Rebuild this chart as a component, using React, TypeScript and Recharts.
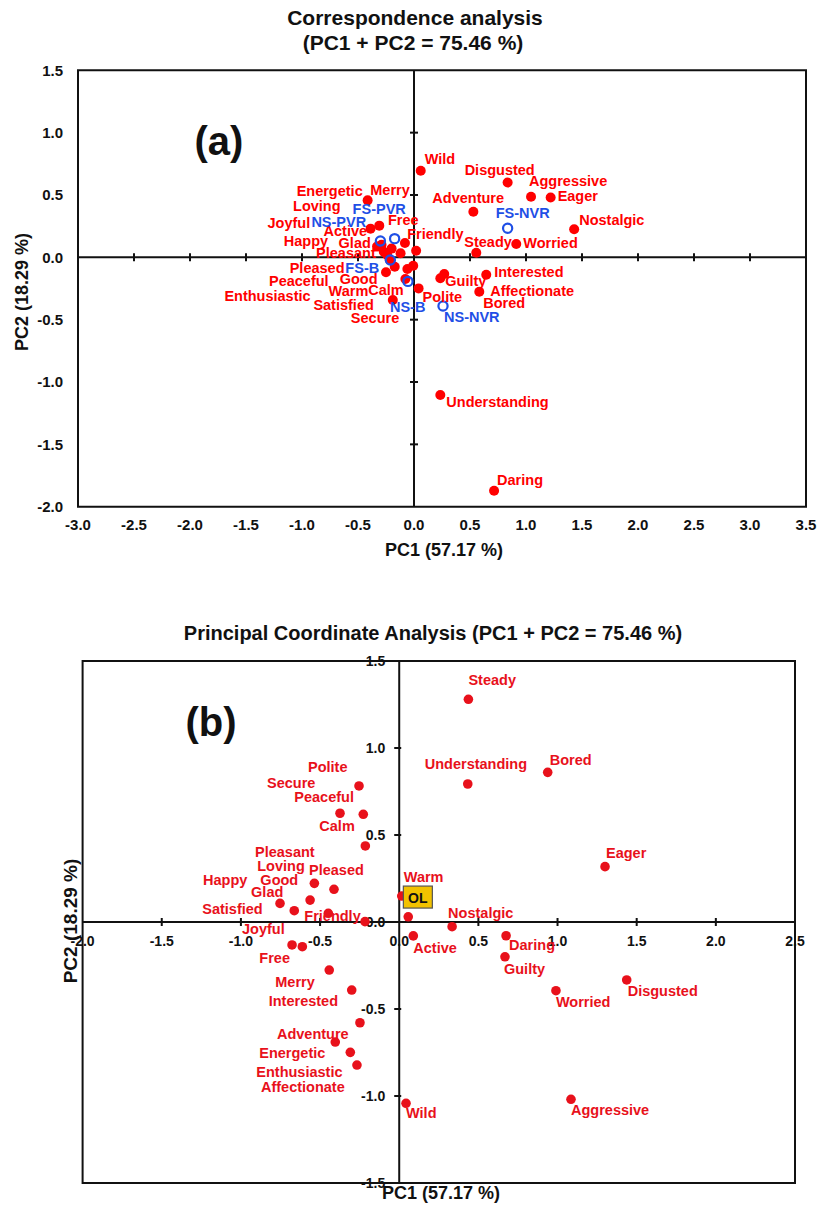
import React from "react";
import {
  ScatterChart,
  Scatter,
  XAxis,
  YAxis,
  ReferenceLine,
  ReferenceArea,
  ReferenceDot,
} from "recharts";

const FONT = "'Liberation Sans', Arial, Helvetica, sans-serif";
const RED = "#ff0000";
const RED_B = "#e8111b";
const BLUE = "#1f4fe6";
const INK = "#111";

// (a) correspondence analysis: attribute scores
const ATTR_A = [
  "Wild", "Disgusted", "Aggressive", "Eager", "Adventure", "Nostalgic", "Steady", "Worried",
  "Interested", "Guilty", "Affectionate", "Bored", "Polite", "Understanding", "Daring",
  "Energetic", "Merry", "Joyful", "Active", "Loving", "Free", "Friendly", "Happy", "Glad",
  "Pleasant", "Warm", "Pleased", "Peaceful", "Good", "Enthusiastic", "Calm", "Satisfied", "Secure",
];
const PC1_A = [
  0.06, 0.836, 1.045, 1.22, 0.53, 1.43, 0.556, 0.913,
  0.645, 0.235, 0.27, 0.583, 0.041, 0.235, 0.715,
  -0.414, -0.31, -0.388, -0.29, -0.33, -0.081, 0.019, -0.27, -0.2,
  -0.24, -0.12, -0.217, -0.25, -0.172, -0.059, -0.007, -0.077, -0.189,
];
const PC2_A = [
  0.695, 0.6, 0.486, 0.48, 0.366, 0.225, 0.037, 0.107,
  -0.14, -0.168, -0.134, -0.276, -0.249, -1.104, -1.872,
  0.457, 0.254, 0.23, 0.1, 0.086, 0.115, 0.053, 0.045, 0.07,
  0.02, 0.032, -0.02, -0.12, -0.075, -0.094, -0.067, -0.174, -0.342,
];

// (a) sample scores
const SAMPLE_A = ["FS-PVR", "NS-PVR", "FS-B", "NS-B", "FS-NVR", "NS-NVR"];
const SAMPLE_PC1_A = [-0.173, -0.3, -0.211, -0.054, 0.836, 0.259];
const SAMPLE_PC2_A = [0.15, 0.131, -0.021, -0.193, 0.233, -0.39];

// (b) principal coordinate analysis
const ATTR_B = [
  "Steady", "Understanding", "Bored", "Eager", "Polite", "Secure", "Peaceful", "Calm",
  "Good", "Pleased", "Glad", "Happy", "Satisfied", "Friendly", "Pleasant", "Warm", "Loving",
  "Active", "Nostalgic", "Daring", "Guilty", "Worried", "Disgusted", "Aggressive", "Wild",
  "Joyful", "Free", "Merry", "Interested", "Adventure", "Energetic", "Enthusiastic", "Affectionate",
];
const PC1_B = [
  0.437, 0.433, 0.938, 1.3, -0.254, -0.374, -0.227, -0.214,
  -0.536, -0.412, -0.563, -0.753, -0.663, -0.448, -0.216, 0.016, 0.057,
  0.089, 0.334, 0.675, 0.668, 0.99, 1.437, 1.085, 0.043,
  -0.677, -0.612, -0.442, -0.3, -0.248, -0.404, -0.309, -0.267,
];
const PC2_B = [
  1.28, 0.793, 0.86, 0.318, 0.782, 0.625, 0.619, 0.437,
  0.222, 0.188, 0.126, 0.107, 0.065, 0.05, 0.002, 0.149, 0.03,
  -0.08, -0.027, -0.079, -0.2, -0.395, -0.333, -1.019, -1.042,
  -0.132, -0.142, -0.276, -0.391, -0.579, -0.69, -0.749, -0.822,
];

const X_TICKS_A = [-3, -2.5, -2, -1.5, -1, -0.5, 0, 0.5, 1, 1.5, 2, 2.5, 3, 3.5];
const Y_TICKS_A = [-2, -1.5, -1, -0.5, 0, 0.5, 1, 1.5];
const X_TICKS_B = [-2, -1.5, -1, -0.5, 0, 0.5, 1, 1.5, 2, 2.5];
const Y_TICKS_B = [-1.5, -1, -0.5, 0, 0.5, 1, 1.5];

// label placement: px offset of the text start from its marker
const OFFSET_A: Record<string, [number, number]> = {
  Wild: [4, -12], Disgusted: [-43, -13], Aggressive: [-2, -16], Eager: [7, -1],
  Adventure: [-41, -14], Nostalgic: [5, -9], Steady: [-12, -11], Worried: [7, -1],
  Interested: [8, -3], Guilty: [5, 3], Affectionate: [46, 17], Bored: [4, 11],
  Polite: [4, 9], Understanding: [6, 7], Daring: [3, -11],
  Energetic: [-71, -9], Merry: [-9, -36], Joyful: [-103, -6], Active: [-58, -14],
  Loving: [-84, -41], Free: [-17, -23], Friendly: [-9, -17], Happy: [-100, -11],
  Glad: [-53, -6], Pleasant: [-71, -2], Warm: [-72, 38], Pleased: [-100, 8],
  Peaceful: [-117, 9], Good: [-55, 12], Enthusiastic: [-183, 27], Calm: [-45, 24],
  Satisfied: [-92, 26], Secure: [-42, 18],
  "FS-PVR": [-42, -30], "NS-PVR": [-69, -19], "FS-B": [-45, 8], "NS-B": [-18, 26],
  "FS-NVR": [-12, -15], "NS-NVR": [1, 11],
};
const OFFSET_B: Record<string, [number, number]> = {
  Steady: [0, -19], Understanding: [-43, -20], Bored: [2, -12], Eager: [1, -14],
  Polite: [-51, -19], Secure: [-73, -30], Peaceful: [-69, -17], Calm: [-46, -20],
  Good: [-54, -3], Pleased: [-25, -19], Glad: [-59, -8], Happy: [-77, -23],
  Satisfied: [-92, -2], Friendly: [-24, 3], Pleasant: [-110, -70], Warm: [2, -19],
  Loving: [-151, -51], Active: [0, 12], Nostalgic: [-4, -14], Daring: [3, 9],
  Guilty: [-1, 12], Worried: [0, 11], Disgusted: [1, 11], Aggressive: [0, 11],
  Wild: [0, 10], Joyful: [-50, -16], Free: [-43, 11], Merry: [-54, 12],
  Interested: [-83, 11], Adventure: [-83, 11], Energetic: [-76, 11],
  Enthusiastic: [-94, 20], Affectionate: [-96, 22],
};

const zip = (names: string[], xs: number[], ys: number[]) =>
  names.map((name, i) => ({ name, x: xs[i], y: ys[i] }));

const attrA = zip(ATTR_A, PC1_A, PC2_A);
const samplesA = zip(SAMPLE_A, SAMPLE_PC1_A, SAMPLE_PC2_A);
const attrB = zip(ATTR_B, PC1_B, PC2_B);
const warmB = attrB.find((d) => d.name === "Warm")!;

const fmt = (v: number) => v.toFixed(1);

const dot = (color: string, r: number) => (p: any) =>
  <circle cx={p.cx} cy={p.cy} r={r} fill={color} />;

const ring = (color: string, r: number) => (p: any) =>
  <circle cx={p.cx} cy={p.cy} r={r} fill="none" stroke={color} strokeWidth={2.2} />;

const label = (offsets: Record<string, [number, number]>, color: string, size: number) => (p: any) => {
  const [dx, dy] = offsets[p.payload.name] ?? [6, 0];
  return (
    <text
      x={p.cx + dx}
      y={p.cy + dy}
      dominantBaseline="central"
      fill={color}
      fontSize={size}
      fontWeight={700}
      fontFamily={FONT}
    >
      {p.payload.name}
    </text>
  );
};

const crossTick = (vertical: boolean, len: number) => (p: any) =>
  vertical ? (
    <line x1={p.cx} x2={p.cx} y1={p.cy - len} y2={p.cy + len} stroke={INK} strokeWidth={2} />
  ) : (
    <line x1={p.cx - len} x2={p.cx + len} y1={p.cy} y2={p.cy} stroke={INK} strokeWidth={2} />
  );

const tickFont = { fontSize: 15, fontWeight: 700, fill: INK, fontFamily: FONT };

function Txt({ cx, cy, size, children, rotate }: any) {
  return (
    <div
      style={{
        position: "absolute",
        left: cx - 300,
        top: cy - size,
        width: 600,
        height: size * 2,
        lineHeight: `${size * 2}px`,
        textAlign: "center",
        fontSize: size,
        fontWeight: 700,
        fontFamily: FONT,
        color: INK,
        whiteSpace: "nowrap",
        transform: rotate ? "rotate(-90deg)" : undefined,
      }}
    >
      {children}
    </div>
  );
}

function PanelA() {
  return (
    <ScatterChart width={819} height={580} margin={{ top: 70.3, right: 13, bottom: 43.3, left: 8 }}>
      <XAxis
        type="number"
        dataKey="x"
        domain={[-3, 3.5]}
        ticks={X_TICKS_A}
        interval={0}
        tickFormatter={fmt}
        axisLine={false}
        tickLine={false}
        tickMargin={7}
        height={30}
        tick={tickFont}
      />
      <YAxis
        type="number"
        dataKey="y"
        domain={[-2, 1.5]}
        ticks={Y_TICKS_A}
        interval={0}
        tickFormatter={fmt}
        axisLine={false}
        tickLine={false}
        tickMargin={9}
        width={70}
        tick={tickFont}
      />
      <ReferenceArea x1={-3} x2={3.5} y1={-2} y2={1.5} fill="none" stroke={INK} strokeWidth={2} ifOverflow="visible" />
      <ReferenceLine x={0} stroke={INK} strokeWidth={2} />
      <ReferenceLine y={0} stroke={INK} strokeWidth={2} />
      {X_TICKS_A.filter((t) => t !== 0 && t > -3 && t < 3.5).map((t) => (
        <ReferenceDot key={"xa" + t} x={t} y={0} r={3} ifOverflow="visible" shape={crossTick(true, 4)} />
      ))}
      {Y_TICKS_A.filter((t) => t !== 0 && t > -2 && t < 1.5).map((t) => (
        <ReferenceDot key={"ya" + t} x={0} y={t} r={3} ifOverflow="visible" shape={crossTick(false, 4)} />
      ))}
      <Scatter data={attrA} shape={dot(RED, 5)} isAnimationActive={false} />
      <Scatter data={samplesA} shape={ring(BLUE, 4.6)} isAnimationActive={false} />
      <Scatter data={attrA} shape={label(OFFSET_A, RED, 14.5)} isAnimationActive={false} />
      <Scatter data={samplesA} shape={label(OFFSET_A, BLUE, 14.5)} isAnimationActive={false} />
    </ScatterChart>
  );
}

const xTickB = (t: number) => (p: any) => (
  <g>
    {t !== 0 && t > -2 && t < 2.5 && (
      <line x1={p.cx} x2={p.cx} y1={p.cy - 4} y2={p.cy + 4} stroke={INK} strokeWidth={2} />
    )}
    <text x={p.cx} y={p.cy + 19} textAnchor="middle" dominantBaseline="central" fontSize={14} fontWeight={700} fill={INK} fontFamily={FONT}>
      {fmt(t)}
    </text>
  </g>
);

const yTickB = (t: number) => (p: any) => (
  <g>
    {t !== 0 && t > -1.5 && t < 1.5 && (
      <line x1={p.cx - 5} x2={p.cx + 2} y1={p.cy} y2={p.cy} stroke={INK} strokeWidth={2} />
    )}
    <text x={p.cx - 14} y={p.cy} textAnchor="end" dominantBaseline="central" fontSize={14} fontWeight={700} fill={INK} fontFamily={FONT}>
      {fmt(t)}
    </text>
  </g>
);

const olBox = (p: any) => (
  <g>
    <rect x={p.cx + 1.6} y={p.cy - 10} width={29} height={22} fill="#f2c200" stroke="#555" strokeWidth={1.2} />
    <text x={p.cx + 16} y={p.cy + 1.5} textAnchor="middle" dominantBaseline="central" fontSize={14} fontWeight={700} fill={INK} fontFamily={FONT}>
      OL
    </text>
  </g>
);

function PanelB() {
  return (
    <ScatterChart width={819} height={609} margin={{ top: 61, right: 24, bottom: 26, left: 82.6 }}>
      <XAxis type="number" dataKey="x" domain={[-2, 2.5]} hide />
      <YAxis type="number" dataKey="y" domain={[-1.5, 1.5]} hide />
      <ReferenceArea x1={-2} x2={2.5} y1={-1.5} y2={1.5} fill="none" stroke={INK} strokeWidth={2} ifOverflow="visible" />
      <ReferenceLine x={0} stroke={INK} strokeWidth={2} />
      <ReferenceLine y={0} stroke={INK} strokeWidth={2} />
      {X_TICKS_B.map((t) => (
        <ReferenceDot key={"xb" + t} x={t} y={0} r={3} ifOverflow="visible" shape={xTickB(t)} />
      ))}
      {Y_TICKS_B.map((t) => (
        <ReferenceDot key={"yb" + t} x={0} y={t} r={3} ifOverflow="visible" shape={yTickB(t)} />
      ))}
      <Scatter data={attrB} shape={dot(RED_B, 4.8)} isAnimationActive={false} />
      <ReferenceDot x={warmB.x} y={warmB.y} r={3} ifOverflow="visible" shape={olBox} />
      <Scatter data={attrB} shape={label(OFFSET_B, RED_B, 14.5)} isAnimationActive={false} />
    </ScatterChart>
  );
}

export default function App() {
  return (
    <div style={{ position: "absolute", left: 0, top: 0, width: 819, height: 1209, background: "#fff" }}>
      <div style={{ position: "absolute", left: 0, top: 0 }}>
        <PanelA />
      </div>
      <div style={{ position: "absolute", left: 0, top: 600 }}>
        <PanelB />
      </div>

      <Txt cx={415} cy={18} size={21}>Correspondence analysis</Txt>
      <Txt cx={413} cy={43} size={21}>(PC1 + PC2 = 75.46 %)</Txt>
      <Txt cx={444} cy={550} size={18}>PC1 (57.17 %)</Txt>
      <Txt cx={22} cy={292} size={18} rotate>PC2 (18.29 %)</Txt>
      <Txt cx={219} cy={141} size={40}>(a)</Txt>

      <Txt cx={433} cy={633} size={20}>Principal Coordinate Analysis (PC1 + PC2 = 75.46 %)</Txt>
      <Txt cx={441} cy={1193} size={18}>PC1 (57.17 %)</Txt>
      <Txt cx={71} cy={921} size={19} rotate>PC2 (18.29 %)</Txt>
      <Txt cx={211} cy={722} size={40}>(b)</Txt>
    </div>
  );
}
